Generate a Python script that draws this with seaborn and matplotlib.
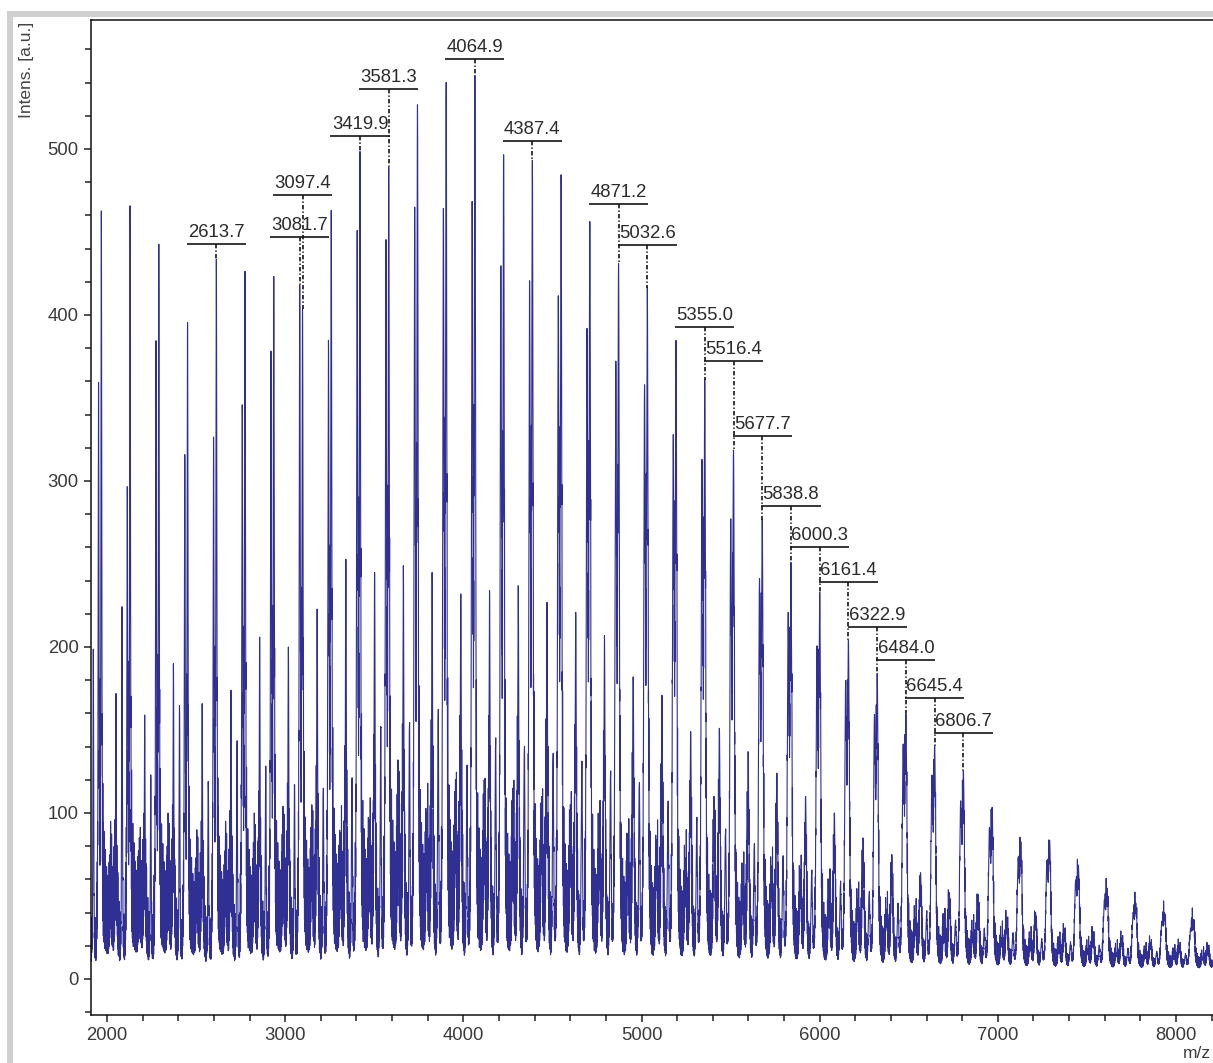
import numpy as np
import pandas as pd
import matplotlib
matplotlib.use("Agg")
import matplotlib.pyplot as plt
import seaborn as sns
from matplotlib.patches import Rectangle
from matplotlib.ticker import MultipleLocator

# Oligomer series (hexose ladder, ~161.3 Da spacing); one entry per cluster
CLUSTER_MZ = [1806.9, 1968.2, 2129.5, 2290.8, 2452.1, 2613.7, 2774.7, 2936.0,
              3097.4, 3258.6, 3419.9, 3581.3, 3742.6, 3903.7, 4064.9, 4226.1,
              4387.4, 4548.6, 4709.9, 4871.2, 5032.6, 5193.8, 5355.0, 5516.4,
              5677.7, 5838.8, 6000.3, 6161.4, 6322.9, 6484.0, 6645.4, 6806.7,
              6968.0, 7129.3, 7290.6, 7451.9, 7613.2, 7774.5, 7935.8, 8097.1]
# main ion of each cluster
MAIN_INT = [440, 463, 466, 443, 396, 434, 427, 424, 405, 464, 500, 490, 528, 542,
            546, 498, 495, 486, 458, 433, 418, 386, 363, 320, 278, 252, 234, 205,
            185, 161, 141, 126, 104, 83, 84, 69, 55, 46, 40, 36]
# companion ion 15.7 Da below the main ion
ADDUCT_INT = [330, 359, 296, 384, 315, 325, 344, 376, 415, 381, 446, 440, 458, 456,
              459, 420, 410, 400, 380, 360, 345, 315, 300, 265, 230, 210, 190, 170,
              150, 133, 115, 100, 85, 68, 66, 55, 44, 37, 32, 28]
# satellite ions between the main ions (+52, +82, +116 Da)
SMALL_INT = [80, 95, 85, 100, 90, 95, 100, 104, 105, 88, 96, 132, 100, 120, 120,
             115, 110, 105, 100, 80, 84, 73, 110, 57, 68, 66, 55, 48, 42, 37, 32,
             28, 25, 22, 20, 18, 16, 15, 14, 13]
SAT_INT = [150, 172, 159, 190, 166, 174, 206, 200, 223, 253, 245, 249, 245, 232,
           234, 237, 227, 221, 207, 182, 171, 149, 151, 137, 124, 110, 100, 85, 75,
           64, 52, 51, 37, 40, 30, 28, 25, 22, 20, 18]
SAT2_INT = [205, 230, 128, 172, 122, 150, 134, 121, 120, 127, 158, 162, 169, 132,
            150, 145, 140, 135, 128, 120, 110, 100, 90, 82, 75, 66, 60, 52, 46, 40,
            35, 30, 27, 24, 22, 20, 18, 16, 15, 14]
ION_OFFSETS = [-15.7, 0.0, 52.0, 82.0, 116.0]
# height of the dense low-level signal around each cluster
HUMP_INT = [100, 105, 110, 110, 100, 100, 105, 110, 115, 120, 125, 130, 130, 130,
            125, 120, 115, 110, 105, 95, 90, 85, 80, 75, 70, 62, 56, 50, 45, 40, 36,
            32, 28, 25, 22, 20, 18, 16, 15, 14]
# fine structure inside a cluster (offset from main ion, relative height)
FINE_OFFSETS = [-44, -40.5, -37, -33.5, -30, -26.5, -23, -19.5, -16, -12.5, -9, -5.5,
                -2, 1.5, 5, 8.5, 12, 15.5, 19, 22.5, 26, 29.5, 33, 36.5, 40, 43.5,
                47, 50.5, 54, 57.5, 61, 64.5, 68, 71.5, 75, 78.5, 82, 85.5, 89, 92.5,
                96, 99.5, 103, 106.5, 110, 113.5]
FINE_REL = [0.1, 0.2, 0.15, 0.3, 0.25, 0.45, 0.4, 0.7, 0.6, 0.85, 0.75, 1.0, 0.8,
            0.95, 0.7, 0.9, 0.65, 0.8, 0.55, 0.7, 0.45, 0.6, 0.4, 0.55, 0.45, 0.6,
            0.55, 0.75, 0.5, 0.7, 0.45, 0.6, 0.4, 0.7, 0.6, 0.85, 0.7, 0.8, 0.5,
            0.55, 0.35, 0.4, 0.2, 0.3, 0.1, 0.15]
FLOOR = 5.0

# annotated peaks and the height of their label brackets
LABEL_MZ = [2613.7, 3081.7, 3097.4, 3419.9, 3581.3, 4064.9, 4387.4, 4871.2, 5032.6,
            5355.0, 5516.4, 5677.7, 5838.8, 6000.3, 6161.4, 6322.9, 6484.0, 6645.4,
            6806.7]
LABEL_Y = [443, 447, 472, 508, 536, 554, 505, 467, 442, 393, 372, 327, 285, 260,
           239, 212, 192, 169, 148]

X_TICKS = [2000, 3000, 4000, 5000, 6000, 7000, 8000]
Y_TICKS = [0, 100, 200, 300, 400, 500]

# ---- build the profile spectrum ----
grid = np.arange(1900.0, 8230.0, 0.25)
signal = np.full_like(grid, FLOOR)


def add_peak(center, height, sigma):
    lo = np.searchsorted(grid, center - 6 * sigma)
    hi = np.searchsorted(grid, center + 6 * sigma)
    x = grid[lo:hi]
    signal[lo:hi] += height * np.exp(-0.5 * ((x - center) / sigma) ** 2)


def level_at(center):
    i = np.clip(np.searchsorted(grid, center), 0, len(grid) - 1)
    return signal[max(i - 3, 0):i + 4].max()


def add_ion(center, height, sigma):
    # the apex lands on the stated height whatever lies underneath
    h = max(height - level_at(center), 0.0)
    add_peak(center, 0.8 * h, sigma)
    add_peak(center, 0.2 * h, 2.2 * sigma)


def clear_of_ions(pos):
    return min(abs(pos - o) for o in ION_OFFSETS) > 4.5


# dense low-level fine structure first
for k, m in enumerate(CLUSTER_MZ):
    for j, (off, rel) in enumerate(zip(FINE_OFFSETS, FINE_REL)):
        if clear_of_ions(off):
            add_peak(m + off, rel * HUMP_INT[k], 0.45)
        rel2 = FINE_REL[-1 - j] * 0.5 + rel * 0.3
        if clear_of_ions(off + 1.75):
            add_peak(m + off + 1.75, rel2 * HUMP_INT[k], 0.4)

# satellites, companions, then the main ions on top
for k, m in enumerate(CLUSTER_MZ):
    s = 1.2 + 0.0005 * m
    add_ion(m + 52, SMALL_INT[k], 0.9 * s)
    add_ion(m + 82, SAT_INT[k], 0.9 * s)
    add_ion(m + 116, SAT2_INT[k], 0.9 * s)
for k, m in enumerate(CLUSTER_MZ):
    s = 1.2 + 0.0005 * m
    add_ion(m - 15.7, ADDUCT_INT[k], s)
for k, m in enumerate(CLUSTER_MZ):
    s = 1.2 + 0.0005 * m
    add_ion(m, MAIN_INT[k], s)

spec = pd.DataFrame({"mz": grid, "intensity": signal})

# ---- figure ----
sns.set_style("ticks")
plt.rcParams["font.family"] = ["Liberation Sans", "DejaVu Sans"]

W, H = 1213, 1063
fig = plt.figure(figsize=(W / 100, H / 100), dpi=100)
fig.patch.set_facecolor("white")

# window frame
fig.patches.append(Rectangle((7 / W, 0), 6 / W, 1 - 11 / H, transform=fig.transFigure,
                             facecolor="#cfcfcf", edgecolor="none", zorder=0))
fig.patches.append(Rectangle((7 / W, 1 - 17 / H), 1, 6 / H, transform=fig.transFigure,
                             facecolor="#cfcfcf", edgecolor="none", zorder=0))

ax = fig.add_axes([91 / W, 48 / H, 1 - 91 / W, (1015 - 20) / H])
sns.lineplot(data=spec, x="mz", y="intensity", ax=ax, color="#2f2f94",
             linewidth=0.8, estimator=None, sort=False, errorbar=None)

ax.set_xlim(1910.2, 8207.5)
ax.set_ylim(-21.7, 577.7)
ax.set_xlabel("")
ax.set_ylabel("")
ax.xaxis.set_minor_locator(MultipleLocator(200))
ax.yaxis.set_minor_locator(MultipleLocator(20))
ax.set_xticks(X_TICKS)
ax.set_yticks(Y_TICKS)
ax.set_xticklabels([str(v) for v in X_TICKS])
ax.set_yticklabels([str(v) for v in Y_TICKS])
ax.tick_params(which="both", direction="out", width=1.1, color="#222222",
               labelsize=13.3, labelcolor="#3a3a3a", pad=4)
ax.tick_params(which="major", length=4.8)
ax.tick_params(which="minor", length=4.2)
for side in ("left", "bottom", "top"):
    ax.spines[side].set_visible(True)
    ax.spines[side].set_color("#111111")
    ax.spines[side].set_linewidth(1.1)
ax.spines["right"].set_visible(False)

# peak labels: text over a bracket with a dash-dot drop line to the peak top
for mz, yb in zip(LABEL_MZ, LABEL_Y):
    win = (grid > mz - 3) & (grid < mz + 3)
    top = signal[win].max()
    ax.plot([mz - 166, mz + 166], [yb, yb], color="#151515", lw=1.2,
            solid_capstyle="butt", zorder=4)
    ax.plot([mz, mz], [yb, top], color="#151515", lw=1.2,
            ls=(0, (2.6, 1.3, 0.8, 1.3)), zorder=4)
    ax.text(mz, yb + 1.8, f"{mz:.1f}", ha="center", va="bottom", fontsize=13.3,
            color="#2a2a2a", zorder=5)

fig.text(26 / W, 1 - 22 / H, "Intens. [a.u.]", rotation=90, ha="center", va="top",
         fontsize=12.5, color="#444444")
fig.text(1183 / W, 1 - 1046 / H, "m/z", ha="left", va="top", fontsize=12.5,
         color="#3a3a3a")

fig.savefig("out.png", dpi=100)
